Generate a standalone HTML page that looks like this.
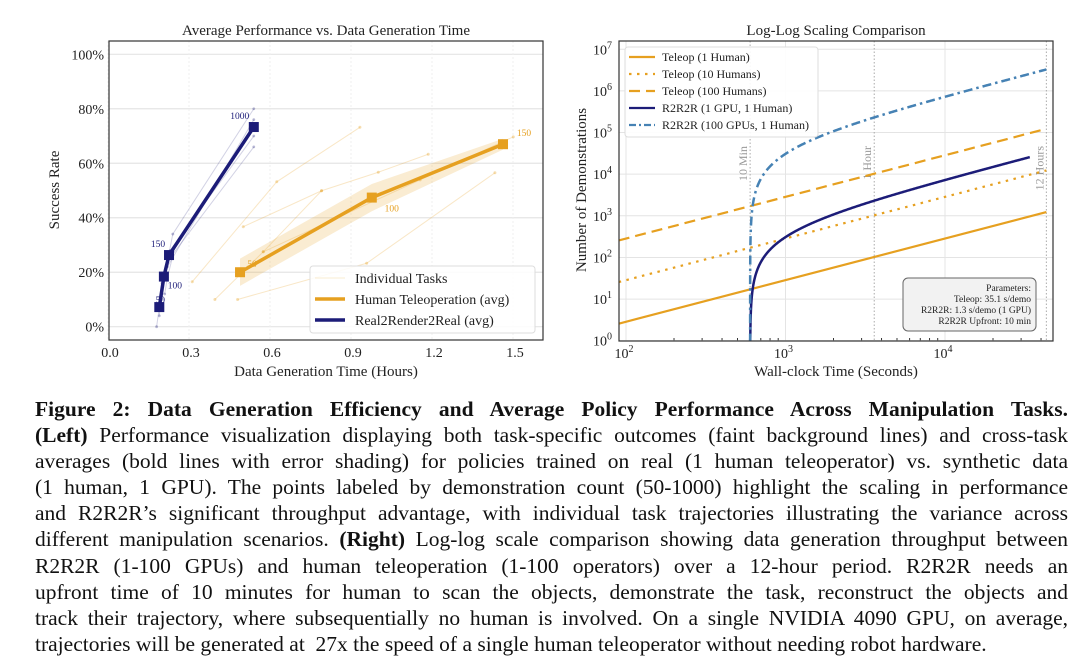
<!DOCTYPE html>
<html><head><meta charset="utf-8">
<style>
html,body{margin:0;padding:0;background:#fff;}
body{width:1080px;height:664px;position:relative;overflow:hidden;font-family:"Liberation Serif",serif;}
svg{position:absolute;left:0;top:0;}
#caption{position:absolute;left:35px;top:396px;width:1033px;font-size:21.5px;line-height:26.1px;color:#111;}
#caption div{text-align:justify;text-align-last:justify;white-space:nowrap;}
#caption div.last{text-align-last:left;}
</style></head><body>
<svg id="fig" width="1080" height="390" viewBox="0 0 1080 390" font-family="Liberation Serif, serif">
 <g id="left"></g>
 <g id="right"></g>
</svg>
<div id="caption">
<div><b>Figure 2: Data Generation Efficiency and Average Policy Performance Across Manipulation Tasks.</b></div>
<div><b>(Left)</b> Performance visualization displaying both task-specific outcomes (faint background lines) and cross-task</div>
<div>averages (bold lines with error shading) for policies trained on real (1 human teleoperator) vs. synthetic data</div>
<div>(1 human, 1 GPU). The points labeled by demonstration count (50-1000) highlight the scaling in performance</div>
<div>and R2R2R’s significant throughput advantage, with individual task trajectories illustrating the variance across</div>
<div>different manipulation scenarios. <b>(Right)</b> Log-log scale comparison showing data generation throughput between</div>
<div>R2R2R (1-100 GPUs) and human teleoperation (1-100 operators) over a 12-hour period. R2R2R needs an</div>
<div>upfront time of 10 minutes for human to scan the objects, demonstrate the task, reconstruct the objects and</div>
<div>track their trajectory, where subsequentially no human is involved. On a single NVIDIA 4090 GPU, on average,</div>
<div class="last">trajectories will be generated at &nbsp;27x the speed of a single human teleoperator without needing robot hardware.</div>
</div>
<script>
// ---------- Left chart data ----------
const humanHours = [0.489, 0.977, 1.463];
const humanSuccess = [20.0, 47.4, 67.0];
const humanLabels = ["50","100","150"];
const humanErr = [5, 5, 2];
const r2rHours = [0.19, 0.207, 0.226, 0.54];
const r2rSuccess = [7.2, 18.4, 26.3, 73.3];
const r2rLabels = ["50","100","150","1000"];
const humanTasksX = [[0.312,0.625,0.933],[0.396,0.575,0.791],[0.501,0.791,1.001,1.186],[0.48,0.958,1.433],[0.575,1.156,1.501]];
const humanTasksY = [[16.5,53.2,73.2],[10,27.5,49.9],[36.7,49.9,56.7,63.3],[10,23.3,56.5],[27.5,53.9,69.7]];
const r2rTasksX = [[0.18,0.2,0.22,0.54],[0.19,0.21,0.23,0.54],[0.2,0.22,0.24,0.54],[0.19,0.2,0.22,0.54],[0.21,0.22,0.25,0.54]];
const r2rTasksY = [[0,14,24,66],[6,20,28,70],[10,24,34,80],[4,16,22,76],[12,18,30,74]];
const leftXTicks = [0.0,0.3,0.6,0.9,1.2,1.5];
const leftYTicks = [0,20,40,60,80,100];
// ---------- Right chart data ----------
const teleopHumans = [1,10,100];
const teleopDash = ["", "2.5,5.5", "11,6"];
const teleopSecPerDemo = 35.1;
const r2rGpus = [1,100];
const r2rSecPerDemo = 1.3;
const r2rUpfront = 600;
const r2rEnd = [34000, 43200];
const markerTimes = [600,3600,43200];
const markerLabels = ["10 Min","1 Hour","12 Hours"];
const tMax = 43200;

const NS="http://www.w3.org/2000/svg";
function mk(parent,tag,attrs,text){const e=document.createElementNS(NS,tag);for(const k in attrs)e.setAttribute(k,attrs[k]);if(text!==undefined)e.textContent=text;parent.appendChild(e);return e;}
const ORANGE="#E6A020", NAVY="#1C1C78", BLUE="#4682B4";

// ===== LEFT =====
const L=document.getElementById('left');
const lx=h=>108+h*270, ly=p=>326.7-p*2.724;
const LX0=109,LX1=543,LY0=41,LY1=340;
leftYTicks.forEach(t=>{const g=mk(L,'line',{x1:LX0,x2:LX1,y1:ly(t),y2:ly(t),stroke:'#e4e4e4','stroke-width':1.2});

const tx=mk(L,'text',{x:104,y:ly(t)+5,'font-size':14,'text-anchor':'end',fill:'#222'},t+'%');
});
leftXTicks.forEach(t=>{const g=mk(L,'line',{x1:lx(t),x2:lx(t),y1:LY0,y2:LY1,stroke:'#efefef','stroke-width':1,'stroke-dasharray':'2,2'});

const tx=mk(L,'text',{x:lx(t)+2,y:357,'font-size':14,'text-anchor':'middle',fill:'#222'},t.toFixed(1));
});
{let up=humanHours.map((h,i)=>lx(h)+','+ly(humanSuccess[i]+humanErr[i]));let dn=humanHours.map((h,i)=>lx(h)+','+ly(humanSuccess[i]-humanErr[i])).reverse();
const b=mk(L,'polygon',{points:up.concat(dn).join(' '),fill:ORANGE,opacity:0.2});
}
humanTasksX.forEach((xs,i)=>{const p=mk(L,'polyline',{points:xs.map((x,j)=>lx(x)+','+ly(humanTasksY[i][j])).join(' '),fill:'none',stroke:ORANGE,'stroke-opacity':0.25,'stroke-width':1});

xs.forEach((x,j)=>{const c=mk(L,'circle',{cx:lx(x),cy:ly(humanTasksY[i][j]),r:1.5,fill:ORANGE,opacity:0.35});});});
r2rTasksX.forEach((xs,i)=>{const p=mk(L,'polyline',{points:xs.map((x,j)=>lx(x)+','+ly(r2rTasksY[i][j])).join(' '),fill:'none',stroke:NAVY,'stroke-opacity':0.2,'stroke-width':1});

xs.forEach((x,j)=>{const c=mk(L,'circle',{cx:lx(x),cy:ly(r2rTasksY[i][j]),r:1.4,fill:NAVY,opacity:0.3});});});
function avg(xs,ys,labels,color,name,lblOff){
 const p=mk(L,'polyline',{points:xs.map((x,i)=>lx(x)+','+ly(ys[i])).join(' '),fill:'none',stroke:color,'stroke-width':3.5});
 
 xs.forEach((x,i)=>{const r=mk(L,'rect',{x:lx(x)-5,y:ly(ys[i])-5,width:10,height:10,fill:color});
 
 const o=lblOff[i];const t=mk(L,'text',{x:lx(x)+o[0],y:ly(ys[i])+o[1],'font-size':9.5,fill:color,'text-anchor':'middle'},labels[i]);
 });
}
avg(humanHours,humanSuccess,humanLabels,ORANGE,'human',[[12,-5],[20,14],[21,-8]]);
avg(r2rHours,r2rSuccess,r2rLabels,NAVY,'r2r',[[1,-4],[11,12],[-11,-8],[-14,-8]]);
mk(L,'rect',{x:LX0,y:LY0,width:LX1-LX0,height:LY1-LY0,fill:'none',stroke:'#333','stroke-width':1.2});
{const t=mk(L,'text',{x:326,y:35,'font-size':15,'text-anchor':'middle',fill:'#222'},'Average Performance vs. Data Generation Time');}
{const t=mk(L,'text',{x:326,y:376,'font-size':15,'text-anchor':'middle',fill:'#222'},'Data Generation Time (Hours)');}
{const t=mk(L,'text',{x:0,y:0,'font-size':15,'text-anchor':'middle',fill:'#222',transform:'translate(59,190) rotate(-90)'},'Success Rate');}
{const g=mk(L,'g',{});
mk(g,'rect',{x:310,y:266,width:225,height:67,rx:3,fill:'#fff','fill-opacity':0.85,stroke:'#ddd'});
const items=[['Individual Tasks',ORANGE,0.2,1],['Human Teleoperation (avg)',ORANGE,1,3.5],['Real2Render2Real (avg)',NAVY,1,3.5]];
items.forEach((it,i)=>{const y=278+i*21;mk(g,'line',{x1:315,x2:345,y1:y,y2:y,stroke:it[1],'stroke-opacity':it[2],'stroke-width':it[3]});
const t=mk(g,'text',{x:355,y:y+5,'font-size':14,fill:'#222'},it[0]);});}

// ===== RIGHT =====
const R=document.getElementById('right');
const rx=t=>626+(Math.log10(t)-2)*159.5, ry=v=>340.7-Math.log10(v)*41.63;
const RX0=619,RX1=1053,RY0=41,RY1=341;
[100,1000,10000].forEach((t,i)=>{mk(R,'line',{x1:rx(t),x2:rx(t),y1:RY0,y2:RY1,stroke:'#e4e4e4'});
const tx=mk(R,'text',{x:rx(t)-2,y:358,'font-size':14,'text-anchor':'middle',fill:'#222'});

mk(tx,'tspan',{},'10');mk(tx,'tspan',{dy:-6,'font-size':10},String(i+2));});
for(let d=100;d<=10000;d*=10)for(let m=2;m<=9;m++){const t=d*m;if(rx(t)<RX1)mk(R,'line',{x1:rx(t),x2:rx(t),y1:RY1,y2:RY1-3,stroke:'#333'});}
for(let e=0;e<=7;e++){const v=Math.pow(10,e);mk(R,'line',{x1:RX0,x2:RX1,y1:ry(v),y2:ry(v),stroke:'#e4e4e4'});
const tx=mk(R,'text',{x:612,y:ry(v)+5,'font-size':14,'text-anchor':'end',fill:'#222'});

mk(tx,'tspan',{},'10');mk(tx,'tspan',{dy:-6,'font-size':10},String(e));}
markerTimes.forEach((t,i)=>{const l=mk(R,'line',{x1:rx(t),x2:rx(t),y1:RY0,y2:RY1,stroke:'#aaa','stroke-dasharray':'1.5,2'});

const tx=mk(R,'text',{x:0,y:0,'font-size':12,fill:'#999','text-anchor':'end',transform:`translate(${rx(t)-3},146) rotate(-90)`},markerLabels[i]);
});
const clipId='rclip';{const d=mk(R,'defs',{});const c=mk(d,'clipPath',{id:clipId});mk(c,'rect',{x:RX0,y:RY0,width:RX1-RX0,height:RY1-RY0});}
teleopHumans.forEach((n,i)=>{const a=90,b=tMax;const p=mk(R,'line',{x1:rx(a),y1:ry(n*a/teleopSecPerDemo),x2:rx(b),y2:ry(n*b/teleopSecPerDemo),stroke:ORANGE,'stroke-width':2.2,'stroke-dasharray':teleopDash[i],'clip-path':`url(#${clipId})`});
});
r2rGpus.forEach((g,i)=>{const pts=[];const N=400;const t0=r2rUpfront,t1=r2rEnd[i];
for(let k=0;k<=N;k++){const t=t0*Math.pow(t1/t0,Math.pow(k/N,1.8));const v=g*(t-t0)/r2rSecPerDemo;if(v<1&&k>0)continue;pts.push(rx(t)+','+ry(Math.max(v,0.9)));}
const p=mk(R,'polyline',{points:pts.join(' '),fill:'none',stroke:i?BLUE:NAVY,'stroke-width':2.5,'stroke-dasharray':i?'9,4,2.5,4':'','clip-path':`url(#${clipId})`});
});
mk(R,'rect',{x:RX0,y:RY0,width:RX1-RX0,height:RY1-RY0,fill:'none',stroke:'#333','stroke-width':1.2});
{const t=mk(R,'text',{x:836,y:35,'font-size':15,'text-anchor':'middle',fill:'#222'},'Log-Log Scaling Comparison');}
{const t=mk(R,'text',{x:836,y:376,'font-size':15,'text-anchor':'middle',fill:'#222'},'Wall-clock Time (Seconds)');}
{const t=mk(R,'text',{x:0,y:0,'font-size':15,'text-anchor':'middle',fill:'#222',transform:'translate(586,190) rotate(-90)'},'Number of Demonstrations');}
{const g=mk(R,'g',{});
mk(g,'rect',{x:625,y:47,width:193,height:90,rx:3,fill:'#fff','fill-opacity':0.9,stroke:'#ddd'});
const items=[['Teleop (1 Human)',ORANGE,''],['Teleop (10 Humans)',ORANGE,'2.5,5.5'],['Teleop (100 Humans)',ORANGE,'11,6'],['R2R2R (1 GPU, 1 Human)',NAVY,''],['R2R2R (100 GPUs, 1 Human)',BLUE,'7,3,2,3']];
items.forEach((it,i)=>{const y=57+i*17;mk(g,'line',{x1:629,x2:655,y1:y,y2:y,stroke:it[1],'stroke-width':2.3,'stroke-dasharray':it[2]});
const t=mk(g,'text',{x:662,y:y+4,'font-size':12,fill:'#222'},it[0]);});}
{const g=mk(R,'g',{});
mk(g,'rect',{x:903,y:278,width:133,height:53,rx:5,fill:'#f2f2f2',stroke:'#666'});
['Parameters:','Teleop: 35.1 s/demo','R2R2R: 1.3 s/demo (1 GPU)','R2R2R Upfront: 10 min'].forEach((s,i)=>mk(g,'text',{x:1031,y:291+i*11,'font-size':9.5,'text-anchor':'end',fill:'#222'},s));}

// fit caption lines
document.querySelectorAll('#caption div').forEach(d=>{
 const s=document.createElement('span');s.style.whiteSpace='nowrap';
 while(d.firstChild)s.appendChild(d.firstChild);d.appendChild(s);
 const w=s.getBoundingClientRect().width;
 if(w>1033){d.style.fontSize=(21.5*1033/w-0.05)+'px';}
});
</script>
</body></html>
